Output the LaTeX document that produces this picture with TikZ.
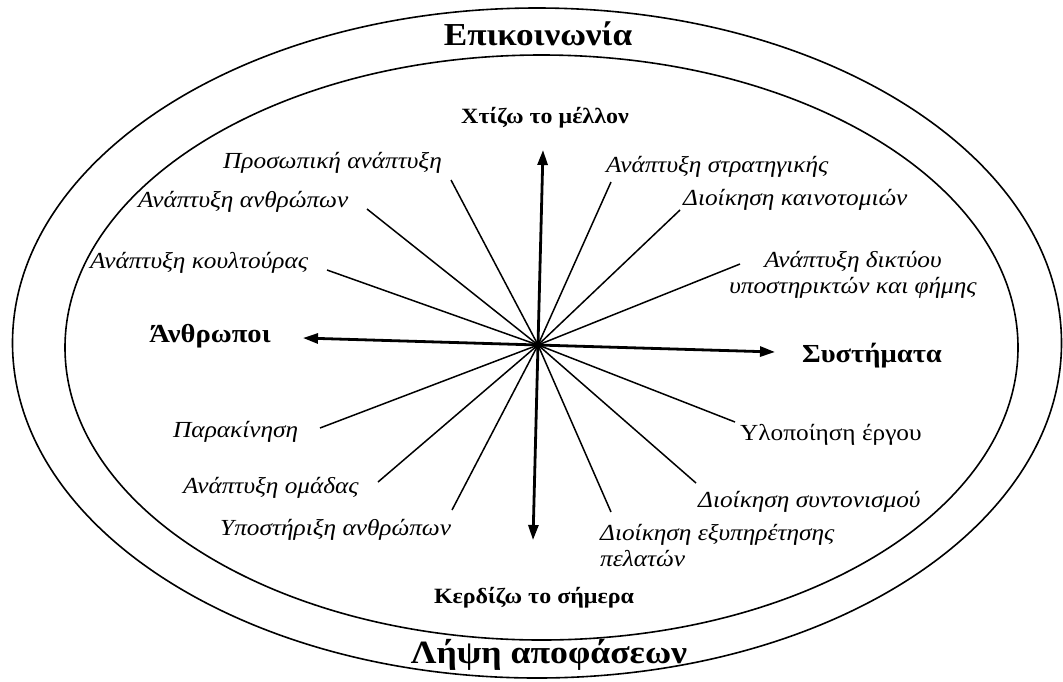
\documentclass[tikz,border=0pt]{standalone}
\usepackage{fontspec}
\setmainfont{Liberation Serif}[FakeStretch=1.1]
\usetikzlibrary{arrows.meta}
\begin{document}
\begin{tikzpicture}[x=1pt,y=-1pt,
  ring/.style={line width=1.6pt},
  spoke/.style={line width=1.5pt},
  axis/.style={line width=2.8pt,-{Triangle[length=15pt,width=10pt]}},
  band/.style={font=\bfseries\fontsize{32}{36}\selectfont,inner sep=0pt},
  axlbl/.style={font=\bfseries\fontsize{26}{30}\selectfont,inner sep=0pt},
  vlbl/.style={font=\bfseries\fontsize{21.8}{25}\selectfont,inner sep=0pt},
  item/.style={font=\itshape\fontsize{23}{26}\selectfont,inner sep=0pt},
  itemup/.style={font=\fontsize{23}{26}\selectfont,inner sep=0pt},
]
\useasboundingbox (0,0) rectangle (1063,681);
\fill[white] (0,0) rectangle (1063,681);
% rings
\draw[ring] (537,343) ellipse [x radius=524.5pt, y radius=335pt];
\draw[ring] (541.5,347.5) ellipse [x radius=476.5pt, y radius=292.5pt];
% band labels
\node[band,anchor=base] (com) at (538,45) {Επικοινωνία};
\node[band,anchor=base,font=\bfseries\fontsize{32.5}{38}\selectfont] (dec) at (549,663) {Λήψη αποφάσεων};
% centre and axes
\coordinate (c) at (538,345);
\coordinate (up) at (543,150);
\coordinate (dn) at (533,540);
\coordinate (lf) at (303,338);
\coordinate (rt) at (775,352);
\draw[axis] (c) -- (up);
\draw[axis] (c) -- (dn);
\draw[axis] (c) -- (lf);
\draw[axis] (c) -- (rt);
% axis labels
\node[vlbl,anchor=base] (fut) at (545,123) {Χτίζω το μέλλον};
\node[vlbl,anchor=base] (tod) at (534,603) {Κερδίζω το σήμερα};
\node[axlbl,anchor=base] (ppl) at (210,342) {Άνθρωποι};
\node[axlbl,anchor=base] (sys) at (872,362) {Συστήματα};
% items
\node[item,anchor=base west] (i1) at (223,168) {Προσωπική ανάπτυξη};
\node[item,anchor=base west] (i2) at (138,207) {Ανάπτυξη ανθρώπων};
\node[item,anchor=base west] (i3) at (90,268) {Ανάπτυξη κουλτούρας};
\node[item,anchor=base west] (i4) at (606,172) {Ανάπτυξη στρατηγικής};
\node[item,anchor=base west] (i5) at (683,205) {Διοίκηση καινοτομιών};
\node[item,anchor=base,align=center] (i6) at (853,293) {Ανάπτυξη δικτύου\\υποστηρικτών και φήμης};
\node[item,anchor=base west] (i7) at (173,437) {Παρακίνηση};
\node[item,anchor=base west] (i8) at (183,493) {Ανάπτυξη ομάδας};
\node[item,anchor=base west] (i9) at (220,535) {Υποστήριξη ανθρώπων};
\node[itemup,anchor=base west] (i10) at (740,440) {Υλοποίηση έργου};
\node[item,anchor=base west] (i11) at (698,507) {Διοίκηση συντονισμού};
\node[item,anchor=base west,align=left] (i12) at (600,566) {Διοίκηση εξυπηρέτησης\\πελατών};
% spoke ends
\coordinate (s1) at (451,180);
\coordinate (s2) at (367,209);
\coordinate (s3) at (327,270);
\coordinate (s4) at (611,182);
\coordinate (s5) at (680,210);
\coordinate (s6) at (740,264);
\coordinate (s7) at (320,428);
\coordinate (s8) at (378,482);
\coordinate (s9) at (452,510);
\coordinate (s10) at (735,422);
\coordinate (s11) at (696,483);
\coordinate (s12) at (611,512);
\foreach \s in {s1,s2,s3,s4,s5,s6,s7,s8,s9,s10,s11,s12}
  \draw[spoke] (\s) -- (c);
\fill (c) circle (3.5pt);
\end{tikzpicture}
\end{document}
